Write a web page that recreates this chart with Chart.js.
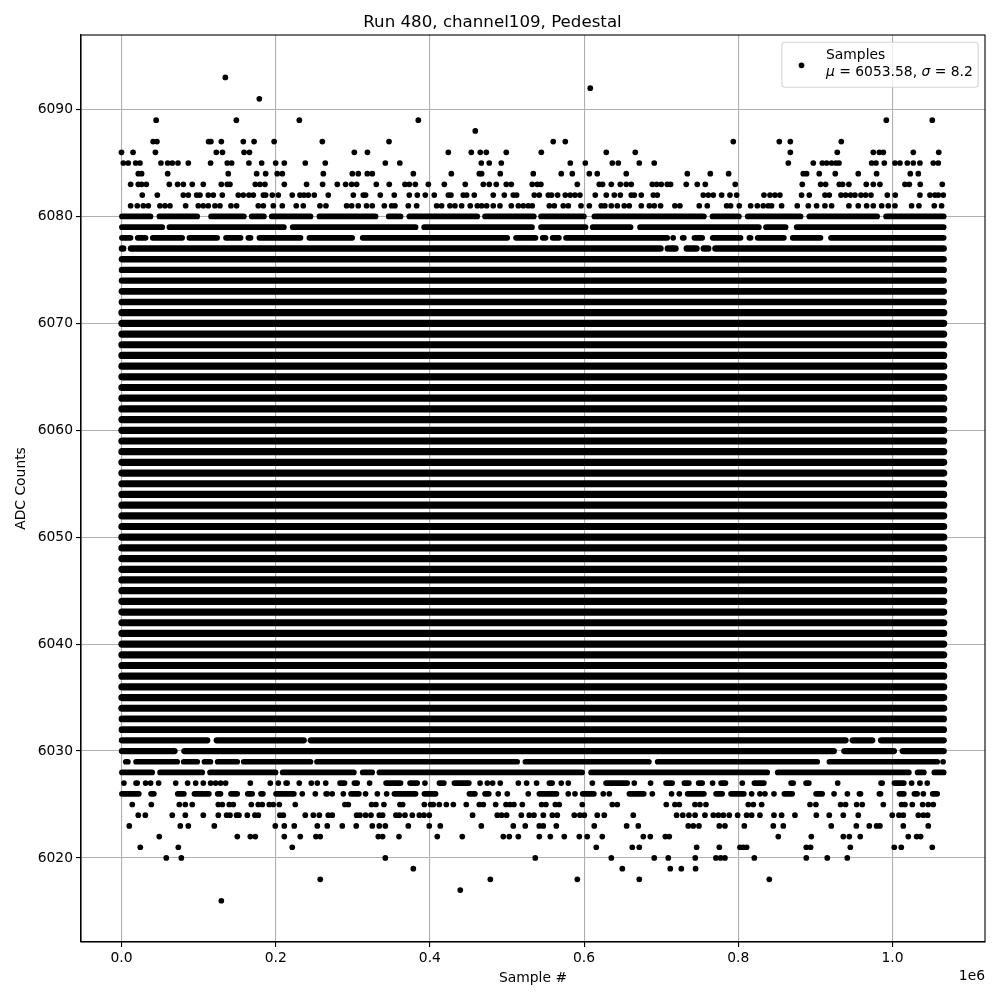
<!DOCTYPE html>
<html>
<head>
<meta charset="utf-8">
<style>html,body{margin:0;padding:0;background:#fff}canvas{display:block}</style>
<script src="https://cdn.jsdelivr.net/npm/chart.js@4"></script>
</head>
<body>
<canvas id="c" width="1000" height="1000"></canvas>
<script>
// Sample number is in thousands, value is ADC counts.
const titleText = "Run 480, channel109, Pedestal";
const xLabel = "Sample #";
const yLabel = "ADC Counts";
const seriesName = "Samples";
const meanText = "6053.58";
const sigmaText = "8.2";
const xTicks = [0, 200, 400, 600, 800, 1000];
const yTicks = [6020, 6030, 6040, 6050, 6060, 6070, 6080, 6090];

// Levels sampled without visible gaps over the whole run
const fullLevels = [6032,6033,6034,6035,6036,6037,6038,6039,6040,6041,6042,6043,6044,6045,6046,6047,6048,6049,6050,6051,6052,6053,6054,6055,6056,6057,6058,6059,6060,6061,6062,6063,6064,6065,6066,6067,6068,6069,6070,6071,6072,6073,6074,6075,6076];
const fullRun = [-3, 1070];

// Runs of overlapping samples: outer [from, to]
const runs6080 = [[-3,41.3],[45.6,101.8],[112.6,162.3],[165.3,188.3],[191.3,248.8],[253.1,333.1],[343,365.5],[369.8,465],[468,538.4],[540.6,603.3],[609.8,759],[763,804.3],[808.7,884.3],[888.6,983.7],[988.1,1070]];
const runs6079 = [[-3,56.4],[58.6,214.2],[218.5,385],[389,536],[540.6,605.5],[607.6,663.8],[669,830.3],[832.4,864.9],[872.2,1070]];
const runs6078 = [[-3,15.3],[17.5,34.8],[37,82.3],[84.5,127.7],[132,158],[161,171],[175.3,235.8],[240.1,302.8],[309.3,503.9],[508.2,540.6],[542.8,553.6],[555.7,570.9],[573,711.4],[713.5,717.8],[724.3,733],[739.5,756.8],[763.3,806.5],[810.8,819.5],[821.6,862.7],[867,910.2],[916.7,1070]];
const runs6077 = [[-3,5.8],[8.8,702.7],[705,722.2],[729.6,749.4],[751.6,764.6],[766.7,1070]];
const runs6031 = [[-3,114.8],[120,240],[242,942.7],[944.8,977.3],[981.6,1070]];
const runs6030 = [[-3,72.4],[78,927.5],[934,1005.4],[1009.7,1070]];
const runs6029 = [[2,11.9],[15.3,75.9],[77.1,101.8],[104,119],[121.2,153.7],[155,248.8],[250,516.8],[520.3,687.6],[691.9,906],[914.6,1061.6],[1063,1068.5]];
const runs6028 = [[-3,43.4],[46.5,108.3],[111.3,203.4],[205.5,305],[309.3,328.7],[331,601],[605.5,841.1],[847.6,1024.8],[1029,1044.3],[1050.7,1070]];
const runs6027 = [[15.3,24],[67.2,73.7],[93.1,99.6],[209.9,218.5],[261.8,268.2],[279.9,292.9],[298.5,309.3],[339.6,365.5],[370.7,387.1],[408.8,421.7],[428.2,454.1],[461.5,469.3],[551.4,562.2],[607.6,614.1],[624.9,659.5],[702.7,717.8],[726.5,739.5],[745,756.8],[774.1,787],[817.3,836.8],[864.9,874.8],[884.3,895.1],[925.4,932.7],[981.6,990.2],[998.9,1018.3],[1033.5,1037.8]];
const runs6026 = [[-3,26.1],[34.8,45.6],[69.4,84.5],[91,116.9],[121.2,132],[138.5,153.7],[160.2,173.1],[177.4,187],[196.9,227.2],[261.8,270.4],[294.2,311.5],[328.7,335.2],[350.4,385],[389.3,411],[447.7,462],[468,480],[538.4,567.8],[594.6,616.3],[655.2,681],[711.4,715.7],[730.8,759],[767.6,782.7],[787,810.8],[856.2,873.5],[897.3,912.4],[921.1,927.5],[938.4,944.8],[953.5,962.1],[979.4,988.1],[1005.4,1018.3],[1024.8,1035.6],[1048.6,1061.6]];

// Individually visible samples at each level
const dots6093 = [134.7];
const dots6092 = [608];
const dots6091 = [178.8];
const dots6089 = [45,149,230.7,385,992,1051.6];
const dots6088 = [458.9];
const dots6087 = [41,46,113,116,129.5,158,172,198,260.5,347,560,575.6,793.5,853.2,867.5,933.6];
const dots6086 = [0,15,44,123,131,159,166,302,319,423.9,453.7,465.4,473.2,499.1,544.5,628.8,666.4,867.5,928.4,975.1,982.9,988.1,1027,1060];
const dots6085 = [2.4,8.8,18.4,24,51.2,59.9,65.9,73.3,86.7,115.6,137.2,142.9,165.3,181.8,200,211.2,238.4,264.3,342.2,361,466.7,477,492.6,582.1,601.6,636.6,644.4,671.6,691,864.9,897.3,909,914.6,921.1,926.7,930.6,973,978.6,989.4,1003.2,1009.7,1019.2,1027,1035.6,1052.9,1059.4];
const dots6084 = [21.8,26.1,59.9,138.5,175.3,187,202,208.6,261.8,299.4,307.1,318.8,325.3,378.5,427.8,464.1,467.1,491.3,534.1,570.4,584.7,606.8,617.1,654.7,733.9,763.7,787.5,884.3,888.6,905,925.8,955.6,979.4,1023.1,1033.5];
const dots6083 = [11.9,21.8,26.1,32.2,62,72.8,80.2,91.8,106.1,129.5,137.2,140.7,173.6,179.6,186.1,211.2,240.1,260.9,279.9,290.7,298.5,305,330.5,347.3,367.7,373.3,381.1,398,418.7,445.9,469.3,477,486.1,499.1,505.6,532.8,539.3,544,591.2,619.7,624,635.3,647,654.7,661.2,688.5,694.1,700.1,707.9,712.2,732.5,746.8,757.2,796.1,883,906.8,913.3,931,935.3,943.5,966,975.1,983.7,1016.2,1021.8,1036,1064.6];
const dots6082 = [27,46.5,80.2,86.7,97.5,101.8,112.6,119.1,130.8,151.5,158,165.3,171,184,187,195.6,203.4,221.5,231.5,236.7,242.3,250.1,268.2,300.7,313.6,316.6,335.7,353.8,373.3,383.7,394.1,405.7,423.9,427.3,443.3,447.7,457.6,482.2,496.5,508.2,512.5,535.4,541.9,553.6,557.9,565.7,575.6,582.1,588.2,594.6,614.5,628.8,639.2,647,661.2,665.1,674.2,689.8,695,754.6,761.1,767.6,778.4,789.2,797.9,833.3,841.1,847.6,854,882.1,892.1,912.4,918,933.2,939.2,945.7,951.3,959.1,965.2,972.1,993.3,1003.6,1035.6,1048.6,1055.1,1059.4,1065.9];
const dots6081 = [11.9,20.5,28.3,34.8,49.9,56.4,62.9,83.2,99.6,106.1,112.6,121.2,127.7,142,149.3,177.4,184,196.9,208.6,226.7,235.8,257.4,265.2,292,298.5,307.1,317.9,325.3,340.9,350.4,354.7,372,382.8,408.8,415.2,426,432.5,441.2,452.4,461.5,467.1,473.6,482.2,490.9,505.6,514.7,521.2,527.6,532.8,554.9,561.4,573,579.5,596,606.8,622.3,627,635.3,643.1,652.1,658.6,674.2,684.6,691,699.2,717.8,724.3,749.4,759.8,784.9,790,801.3,816,824.7,832.4,838.9,843.2,856.2,876.5,890.8,901.6,912.4,921.1,943.5,955.6,966.5,975.1,986,994.6,1003.2,1024.8,1034.3,1054.2,1063.7];
const dots6027 = [3.2,31.3,37.8,48.2,85.8,106.1,115.6,122.1,128.6,135.1,167.1,193,203.4,230.6,246.2,254,321.8,393.6,474.5,481.4,491.3,514.7,525.5,538.4,570.4,579.5,665.1,686.3,766.7,805.2,1024.8,1045.1];
const dots6026 = [234.5,251.4,273.4,287.7,316.6,343.9,488.7,500.4,527.6,579.5,588.2,624.9,632.7,688.5,723.5,817.3,828.1,834.6,846.3,1040];
const dots6025 = [14,38.7,75,82.8,91.8,125.6,130.8,139.8,145,168.4,177.4,182.6,191.7,196.9,204.7,225.4,289.8,294.2,324.4,330,340.4,361.2,364.7,392.8,401,404.4,412.2,421.3,430.4,447.2,464.1,469.3,485.3,498.7,503.9,509,519.9,544.9,550.5,562.7,567.8,597.7,636.6,643.1,706.6,717.8,723.5,743.8,750.3,758.1,813,819.5,830.3,893,900.7,932.7,939.2,953.5,960.8,988.1,1011.8,1016.2,1025.7,1039.1,1046.4,1052.9];
const dots6024 = [21.8,30.9,65.9,82.8,106.1,125.6,136.4,140.7,149.3,152.4,163.2,173.1,177.4,205.5,209.9,238.4,248.8,256.6,268.2,273.4,305,309.3,316.6,323.6,334.4,338.7,356,360.3,367.7,377.2,386.3,392.3,399.2,455.4,487.4,493,499.5,518.6,528.9,535,547.1,558.8,565.2,587.3,594.6,600.3,617.1,626.2,663.8,720,728,736,744,756.8,767.6,774.1,780.6,788.3,799.2,810.8,817.3,828.1,846.3,856.2,873.5,901.2,918,936.2,955.6,999.7,1008.4,1014,1033.5,1040,1045.6];
const dots6023 = [10.1,76.3,86.7,120.4,199.5,211.2,224.1,254,266.9,286.4,304.5,325.3,334.4,342.2,372,399.2,413.5,466.7,508.2,523.7,541.9,547.1,564,613.2,655.2,670.3,735.1,741.6,749,775.4,782.7,807.8,845.4,858.4,920.6,953.1,969.9,979.4,983.7,1014,1046.4];
const dots6022 = [49,150.2,167.1,173.6,211.2,231.9,252.2,257.8,333.1,338.7,359.9,409.6,442,495.2,503,514.7,541.9,556.2,574.3,593.8,604.1,623.6,676.8,685.9,705.3,710.5,851.9,894.7,936.2,944,958.2,1020.5,1031.3,1036.5];
const dots6021 = [24.4,73.7,221.5,615.8,662.5,671.6,746,775.4,802.2,806.5,810.8,888.2,893.8,945.3,1002.3,1011.4,1051.6];
const dots6020 = [58.1,77.6,342.2,536.7,635.3,691,709.2,744.2,771,777.1,782.7,820.8,888.2,915.4,941.4];
const dots6019 = [378.5,649.6,711.8,726.1,744.6];
const dots6018 = [257.8,478.4,591.2,671.6,840.2];
const dots6017 = [439.4];
const dots6016 = [129.5];

const allRuns = {6080:runs6080,6079:runs6079,6078:runs6078,6077:runs6077,6031:runs6031,6030:runs6030,6029:runs6029,6028:runs6028,6027:runs6027,6026:runs6026};
const allDots = {6093:dots6093,6092:dots6092,6091:dots6091,6089:dots6089,6088:dots6088,6087:dots6087,6086:dots6086,6085:dots6085,6084:dots6084,6083:dots6083,6082:dots6082,6081:dots6081,6027:dots6027,6026:dots6026,6025:dots6025,6024:dots6024,6023:dots6023,6022:dots6022,6021:dots6021,6020:dots6020,6019:dots6019,6018:dots6018,6017:dots6017,6016:dots6016};
fullLevels.forEach(l => { allRuns[l] = [fullRun]; });

const FONT = '"DejaVu Sans"';
const INK = '#000000';
const DOT_RADIUS = 2.85;
const RUN_INSET = 3.6; // half a marker, in x units: runs were read by outer edge

function bandWidth(level) {
  if (level >= 6034 && level <= 6071) return 7.2;
  if (level === 6072 || level === 6073 || level === 6033 || level === 6032) return 6.7;
  if (level >= 6074 && level <= 6077) return 6.4;
  if (level === 6031 || level === 6030) return 6.3;
  return 5.7;
}

const datasets = [];
Object.keys(allRuns).forEach(k => {
  const level = Number(k);
  allRuns[k].forEach(r => {
    const inset = Math.min(RUN_INSET, (r[1] - r[0]) / 2 - 0.1);
    datasets.push({
      type: 'scatter', showLine: true, pointRadius: 0, pointHoverRadius: 0,
      borderColor: INK, backgroundColor: INK, borderWidth: bandWidth(level), borderCapStyle: 'round',
      data: [{x: r[0] + inset, y: level}, {x: r[1] - inset, y: level}]
    });
  });
});
Object.keys(allDots).forEach(k => {
  const level = Number(k);
  datasets.push({
    type: 'scatter', showLine: false, pointRadius: DOT_RADIUS, pointBorderWidth: 0,
    backgroundColor: INK, borderColor: INK,
    data: allDots[k].map(x => ({x: x, y: level}))
  });
});

const framePlugin = {
  id: 'frame',
  afterDraw(chart) {
    const {ctx, chartArea: a} = chart;
    ctx.save();
    // spines
    ctx.strokeStyle = INK; ctx.lineWidth = 1.1;
    ctx.strokeRect(a.left, a.top, a.right - a.left, a.bottom - a.top);
    // offset text
    ctx.fillStyle = INK; ctx.font = '13.89px ' + FONT;
    ctx.textAlign = 'right'; ctx.textBaseline = 'middle';
    ctx.fillText('1e6', a.right, 976.5);
    // legend box
    const bx = 781.8, by = 42.3, bw = 196.4, bh = 45;
    ctx.beginPath();
    ctx.roundRect(bx, by, bw, bh, 3);
    ctx.fillStyle = 'rgba(255,255,255,0.8)'; ctx.fill();
    ctx.strokeStyle = 'rgba(204,204,204,0.8)'; ctx.lineWidth = 1.1; ctx.stroke();
    ctx.fillStyle = INK;
    ctx.beginPath(); ctx.arc(801.5, 65.3, DOT_RADIUS, 0, Math.PI * 2); ctx.fill();
    ctx.textAlign = 'left'; ctx.textBaseline = 'alphabetic';
    ctx.font = '13.89px ' + FONT;
    ctx.fillText(seriesName, 826, 59);
    const parts = [['\u03bc', 'italic '], [' = ' + meanText + ', ', ''], ['\u03c3', 'italic '], [' = ' + sigmaText, '']];
    let tx = 826;
    parts.forEach(p => {
      ctx.font = p[1] + '13.89px ' + FONT;
      ctx.fillText(p[0], tx, 76);
      tx += ctx.measureText(p[0]).width;
    });
    ctx.restore();
  }
};

new Chart(document.getElementById('c'), {
  type: 'scatter',
  data: {datasets},
  plugins: [framePlugin],
  options: {
    responsive: false,
    animation: false,
    events: [],
    layout: {padding: {left: 0, right: 15, top: 0, bottom: 0}},
    plugins: {
      legend: {display: false},
      tooltip: {enabled: false},
      title: {display: true, text: titleText, color: INK,
        font: {family: FONT, size: 16.67, weight: 'normal'},
        padding: {top: 13, bottom: 2}}
    },
    scales: {
      x: {
        type: 'linear', min: -52.5, max: 1120,
        afterFit(s) { s.height = 58; },
        afterBuildTicks(s) { s.ticks = xTicks.map(v => ({value: v})); },
        title: {display: true, text: xLabel, color: INK, font: {family: FONT, size: 13.89}, padding: {top: 0, bottom: 13}},
        grid: {color: '#b0b0b0', lineWidth: 1.1, tickColor: INK, tickLength: 5, drawTicks: true},
        border: {color: INK, width: 1.1},
        ticks: {color: INK, font: {family: FONT, size: 13.89}, padding: 3, autoSkip: false, maxRotation: 0,
          includeBounds: false, callback: v => (v / 1000).toFixed(1)}
      },
      y: {
        type: 'linear', min: 6012.14, max: 6096.97,
        afterFit(s) { s.width = 81; },
        afterBuildTicks(s) { s.ticks = yTicks.map(v => ({value: v})); },
        title: {display: true, text: yLabel, color: INK, font: {family: FONT, size: 13.89}, padding: {top: 13, bottom: 0}},
        grid: {color: '#b0b0b0', lineWidth: 1.1, tickColor: INK, tickLength: 5, drawTicks: true},
        border: {color: INK, width: 1.1},
        ticks: {color: INK, font: {family: FONT, size: 13.89}, padding: 3, autoSkip: false,
          includeBounds: false, callback: v => String(v)}
      }
    }
  }
});
</script>
</body>
</html>
